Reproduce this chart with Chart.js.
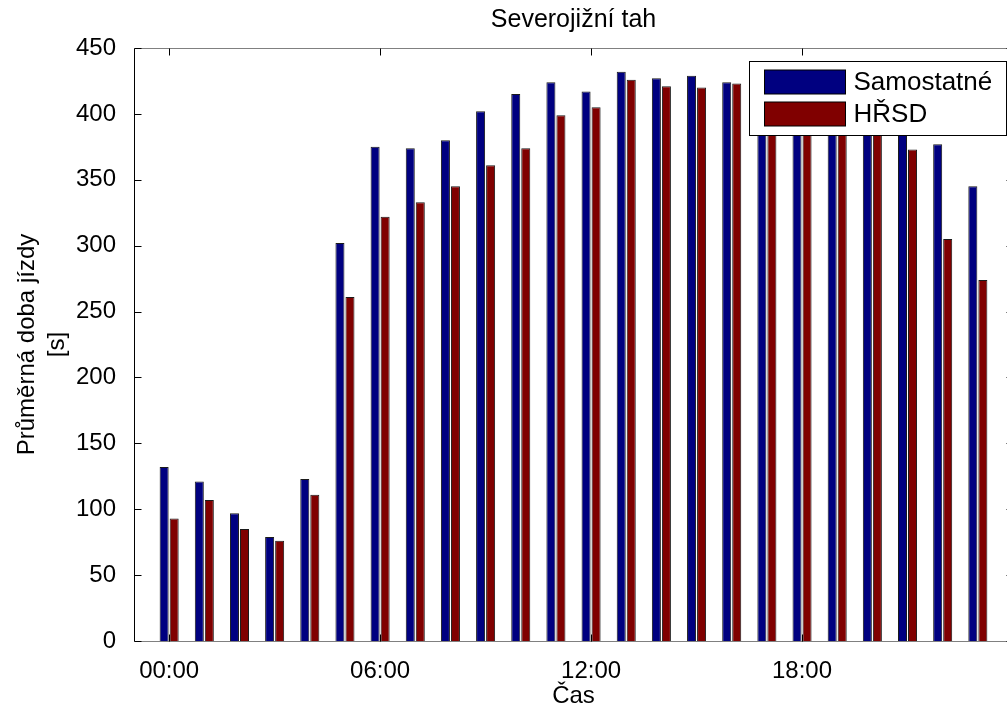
<!DOCTYPE html>
<html>
<head>
<meta charset="utf-8">
<script src="https://cdn.jsdelivr.net/npm/chart.js@4"></script>
<style>
  html, body { margin: 0; padding: 0; background: #fff; overflow: hidden; }
  #wrap { width: 1020px; height: 708px; }
</style>
</head>
<body>
<div id="wrap"><canvas id="chart" width="1020" height="708"></canvas></div>
<script>
// hodiny 0..23
const hours = [0, 1, 2, 3, 4, 5, 6, 7, 8, 9, 10, 11, 12, 13, 14, 15, 16, 17, 18, 19, 20, 21, 22, 23];
const samostatne = [132, 121, 97, 79, 123, 302, 375, 374, 380, 402, 415, 424, 417, 432, 427, 429, 424, 420, 415, 410, 400, 394, 377, 345];
const hrsd = [93, 107, 85, 76, 111, 261, 322, 333, 345, 361, 374, 399, 405, 426, 421, 420, 423, 417, 410, 402, 392, 373, 305, 274];
const tickHours = [0, 6, 12, 18];
const tickLabels = ['00:00', '06:00', '12:00', '18:00'];
const yTicks = [0, 50, 100, 150, 200, 250, 300, 350, 400, 450];

const font = 'Arial, "Liberation Sans", Helvetica, sans-serif';

// ramecek a dovnitr smerujici znacky jako v matlabu
const frame = {
  id: 'frame',
  afterDatasetsDraw(chart) {
    const { ctx, chartArea: a, scales: { x, y } } = chart;
    const L = Math.round(a.left) + 0.5, R = Math.round(a.right) + 0.5;
    const T = Math.round(a.top) + 0.5, B = Math.round(a.bottom) + 0.5;
    ctx.save();
    ctx.lineWidth = 1;
    ctx.strokeStyle = '#808080';
    ctx.beginPath();
    ctx.moveTo(L, T); ctx.lineTo(R, T);
    ctx.moveTo(L, B); ctx.lineTo(R, B);
    ctx.stroke();
    ctx.strokeStyle = '#000';
    ctx.beginPath();
    ctx.moveTo(L, T); ctx.lineTo(L, B);
    ctx.moveTo(R, T); ctx.lineTo(R, B);
    yTicks.forEach(v => {
      const py = Math.round(y.getPixelForValue(v)) + 0.5;
      ctx.moveTo(L, py); ctx.lineTo(L + 7, py);
      ctx.moveTo(R, py); ctx.lineTo(R - 7, py);
    });
    tickHours.forEach(v => {
      const px = Math.round(x.getPixelForValue(v)) + 0.5;
      ctx.moveTo(px, T); ctx.lineTo(px, T + 7);
      ctx.moveTo(px, B); ctx.lineTo(px, B - 7);
    });
    ctx.stroke();
    ctx.restore();
  }
};

// legenda uvnitr grafu, kreslena az nad sloupci
const boxLegend = {
  id: 'boxLegend',
  afterDraw(chart) {
    const { ctx, chartArea: a } = chart;
    const w = 257, h = 74;
    const bx = Math.round(a.right - 7 - w) + 0.5, by = Math.round(a.top + 13) + 0.5;
    ctx.save();
    ctx.fillStyle = '#fff';
    ctx.fillRect(bx, by, w, h);
    ctx.strokeStyle = '#000';
    ctx.lineWidth = 1;
    ctx.strokeRect(bx, by, w, h);
    ctx.font = '26px ' + font;
    ctx.textBaseline = 'middle';
    chart.data.datasets.forEach((ds, i) => {
      const sy = by + 8.5 + i * 32;
      ctx.fillStyle = ds.backgroundColor;
      ctx.fillRect(bx + 15, sy, 81, 24);
      ctx.strokeRect(bx + 15, sy, 81, 24);
      ctx.fillStyle = '#000';
      ctx.fillText(ds.label, bx + 104, sy + 13);
    });
    ctx.restore();
  }
};

new Chart(document.getElementById('chart'), {
  type: 'bar',
  data: {
    labels: hours,
    datasets: [{
      label: 'Samostatné',
      data: samostatne,
      backgroundColor: '#000080',
      borderColor: '#1a1a1a',
      borderWidth: 1,
      categoryPercentage: 0.57,
      barPercentage: 0.9
    }, {
      label: 'HŘSD',
      data: hrsd,
      backgroundColor: '#800000',
      borderColor: '#1a1a1a',
      borderWidth: 1,
      categoryPercentage: 0.57,
      barPercentage: 0.9
    }]
  },
  options: {
    responsive: false,
    animation: false,
    layout: { padding: { left: 0, right: 7, top: 0, bottom: 0 } },
    plugins: {
      legend: { display: false },
      tooltip: { enabled: false },
      title: {
        display: true,
        fullSize: false,
        text: 'Severojižní tah',
        color: '#000',
        font: { family: font, size: 25, weight: 'normal', lineHeight: 1.2 },
        padding: { top: 5, bottom: 13 }
      }
    },
    scales: {
      x: {
        type: 'linear',
        min: -1,
        max: 24,
        offset: false,
        grid: { display: false, offset: false },
        border: { display: false },
        afterBuildTicks: s => { s.ticks = tickHours.map(v => ({ value: v })); },
        afterFit: s => { s.height = 67; },
        ticks: {
          color: '#000',
          padding: 8,
          maxRotation: 0,
          font: { family: font, size: 24, lineHeight: 1.2 },
          callback: v => tickLabels[tickHours.indexOf(v)]
        },
        title: {
          display: true,
          text: 'Čas',
          color: '#000',
          font: { family: font, size: 24, lineHeight: 1.0 },
          padding: { top: 0, bottom: 0 }
        }
      },
      y: {
        min: 0,
        max: 450,
        grid: { display: false },
        border: { display: false },
        afterBuildTicks: s => { s.ticks = yTicks.map(v => ({ value: v })); },
        afterFit: s => { s.width = 134; },
        ticks: {
          color: '#000',
          padding: 10,
          font: { family: font, size: 24, lineHeight: 1.2 }
        },
        title: {
          display: true,
          text: ['Průměrná doba jízdy', '[s]'],
          color: '#000',
          font: { family: font, size: 24, lineHeight: 1.25 },
          padding: { top: 12, bottom: 0 }
        }
      }
    }
  },
  plugins: [frame, boxLegend]
});
</script>
</body>
</html>
